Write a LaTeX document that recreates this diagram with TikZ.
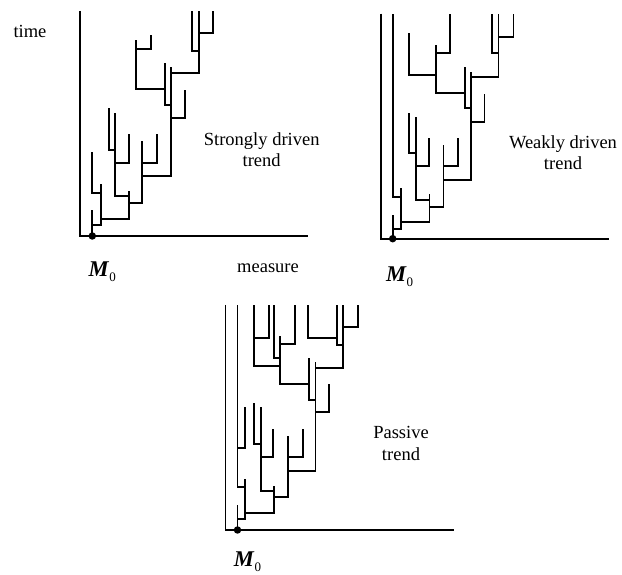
\documentclass[tikz,border=0pt]{standalone}
\usepackage{fontspec}
\setmainfont{Liberation Serif}
\newcommand{\mnought}{\textbf{\textit{M}}\raisebox{-5pt}{\fontsize{13}{15}\selectfont 0}}

\begin{document}
\begin{tikzpicture}[x=1pt, y=1pt, line width=1.8pt,
    txt/.style={font=\fontsize{18.5}{21.5}\selectfont, inner sep=0pt, align=center},
    rootdot/.style={circle, fill, inner sep=0pt, minimum size=7.5pt},
    mlabel/.style={font=\fontsize{22.5}{26}\selectfont, inner sep=0pt, anchor=base west}]
  \useasboundingbox (0,0) rectangle (622,575);

  % strongly driven
  \begin{scope}[shift={(92.3,339)}]
    \node[txt, anchor=base] (time) at (-62.3,198) {time};
    \node[txt, anchor=base] (measure) at (175.7,-37) {measure};
    \node[mlabel] (m1) at (-4.5,-41) {\mnought};
    \node[txt] (strong) at (169.4,86.5) {Strongly driven\\trend};
    \draw (-12,225) -- (-12,0) -- (216,0);
    \draw (0,0) -- (0,26);
    \draw (0,11) -- (8.3,11) -- (8.3,52);
    \draw (8.3,43.3) -- (0,43.3) -- (0,84.3);
    \draw (8.3,17) -- (36.7,17) -- (36.7,45.3);
    \draw (36.7,40) -- (22.7,40) -- (22.7,122.7);
    \draw (22.7,73.3) -- (36.7,73.3) -- (36.7,101.7);
    \draw (22.7,86) -- (16.7,86) -- (16.7,127.7);
    \draw (36.7,33.3) -- (50,33.3) -- (50,95.3);
    \draw (50,73.3) -- (65,73.3) -- (65,101.7);
    \draw (50,60) -- (78.3,60) -- (78.3,169.3);
    \draw (78.3,118.3) -- (92.7,118.3) -- (92.7,146);
    \draw (78.3,131) -- (72.7,131) -- (72.7,172.7);
    \draw (72.7,146.7) -- (43.7,146.7) -- (43.7,196);
    \draw (43.7,187) -- (58.3,187) -- (58.3,201);
    \draw (78.3,162.7) -- (106.7,162.7) -- (106.7,225);
    \draw (106.7,185.3) -- (100,185.3) -- (100,225);
    \draw (106.7,203.3) -- (121,203.3) -- (121,225);
    \node[rootdot] (r1) at (0,0) {};
  \end{scope}

  % weakly driven
  \begin{scope}[shift={(392.7,336.3)}]
    \node[mlabel] (m2) at (-7.5,-43) {\mnought};
    \node[txt] (weak) at (170.3,86) {Weakly driven\\trend};
    \draw (-12,225) -- (-12,0) -- (216,0);
    \draw (0,0) -- (0,23.7);
    \draw (0,9.7) -- (8,9.7) -- (8,50.3);
    \draw (8,42) -- (0,42) -- (0,225);
    \draw (8,16.3) -- (36.7,16.3) -- (36.7,44.3);
    \draw (36.7,38.7) -- (23,38.7) -- (23,122);
    \draw (23,73) -- (36,73) -- (36,100.3);
    \draw (23,85.3) -- (16.3,85.3) -- (16.3,126);
    \draw (36.7,32) -- (50.7,32) -- (50.7,93.7);
    \draw (50.7,73) -- (65.3,73) -- (65.3,100.3);
    \draw (50.7,58.7) -- (78,58.7) -- (78,167);
    \draw (78,117) -- (91.7,117) -- (91.7,144.7);
    \draw (78,130.3) -- (72.3,130.3) -- (72.3,171.3);
    \draw (72.3,145.3) -- (43,145.3) -- (43,193.7);
    \draw (43,163.7) -- (16.3,163.7) -- (16.3,205.3);
    \draw (43,186) -- (57.3,186) -- (57.3,225);
    \draw (78,161.3) -- (105.7,161.3) -- (105.7,225);
    \draw (105.7,185.3) -- (99,185.3) -- (99,225);
    \draw (105.7,202) -- (120.7,202) -- (120.7,225);
    \node[rootdot] (r2) at (0,0) {};
  \end{scope}

  % passive
  \begin{scope}[shift={(237.5,45)}]
    \node[mlabel] (m3) at (-4.5,-37) {\mnought};
    \node[txt] (passive) at (163.5,86.5) {Passive\\trend};
    \draw (-12,225) -- (-12,0) -- (216,0);
    \draw (0,0) -- (0,25);
    \draw (0,11) -- (7.5,11) -- (7.5,51);
    \draw (7.5,43.3) -- (0,43.3) -- (0,225);
    \draw (0,81.7) -- (7.5,81.7) -- (7.5,123.3);
    \draw (7.5,16.7) -- (36.8,16.7) -- (36.8,44.3);
    \draw (36.8,39) -- (23.2,39) -- (23.2,122.7);
    \draw (23.2,73.3) -- (35.8,73.3) -- (35.8,100.7);
    \draw (23.2,86) -- (16.5,86) -- (16.5,126.7);
    \draw (36.8,32.7) -- (50.8,32.7) -- (50.8,94.3);
    \draw (50.8,73.3) -- (65.2,73.3) -- (65.2,100.7);
    \draw (50.8,59) -- (78,59) -- (78,168);
    \draw (78,117.7) -- (91.8,117.7) -- (91.8,145.7);
    \draw (78,130) -- (71.8,130) -- (71.8,171.7);
    \draw (71.8,145.7) -- (42.5,145.7) -- (42.5,194.3);
    \draw (42.5,164) -- (16.5,164) -- (16.5,225);
    \draw (16.5,191.7) -- (31.5,191.7) -- (31.5,225);
    \draw (42.5,172.3) -- (36.8,172.3) -- (36.8,225);
    \draw (42.5,186) -- (57.5,186) -- (57.5,225);
    \draw (78,161.7) -- (105.8,161.7) -- (105.8,225);
    \draw (105.8,185) -- (99.2,185) -- (99.2,225);
    \draw (99.2,192.3) -- (70.8,192.3) -- (70.8,225);
    \draw (105.8,202.7) -- (120.8,202.7) -- (120.8,225);
    \node[rootdot] (r3) at (0,0) {};
  \end{scope}
\end{tikzpicture}
\end{document}
